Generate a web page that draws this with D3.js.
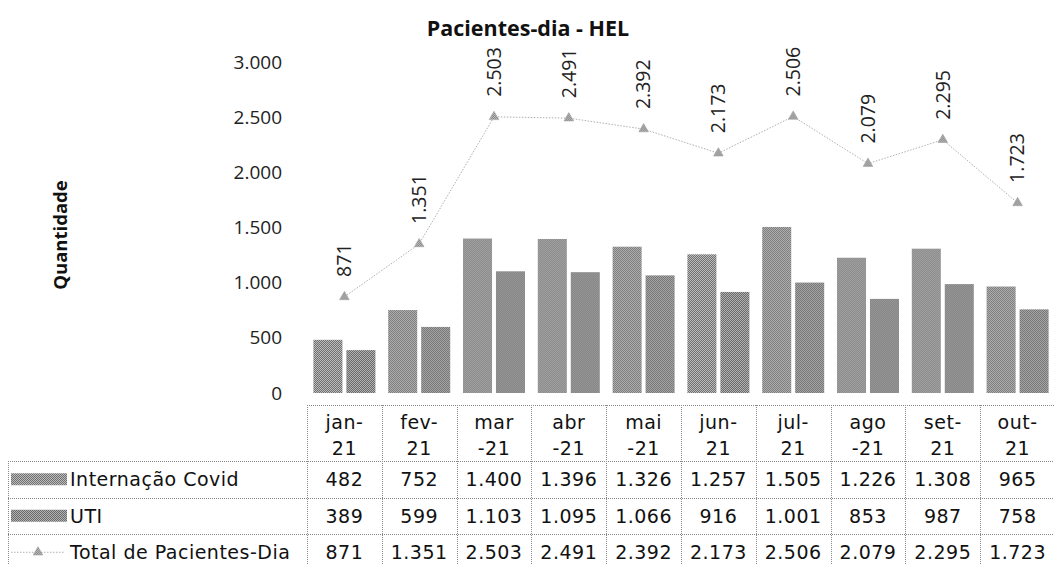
<!DOCTYPE html>
<html>
<head>
<meta charset="utf-8">
<script src="https://cdn.jsdelivr.net/npm/d3@7"></script>
<style>
  body { margin: 0; background: #fff; }
  svg { display: block; }
</style>
</head>
<body>
<div id="chart"></div>
<script>
// Chart data
var months = ["jan-21", "fev-21", "mar-21", "abr-21", "mai-21", "jun-21", "jul-21", "ago-21", "set-21", "out-21"];
var monthLines = [["jan-", "21"], ["fev-", "21"], ["mar", "-21"], ["abr", "-21"], ["mai", "-21"],
                  ["jun-", "21"], ["jul-", "21"], ["ago", "-21"], ["set-", "21"], ["out-", "21"]];
var internacao = [482, 752, 1400, 1396, 1326, 1257, 1505, 1226, 1308, 965];
var uti = [389, 599, 1103, 1095, 1066, 916, 1001, 853, 987, 758];
var total = [871, 1351, 2503, 2491, 2392, 2173, 2506, 2079, 2295, 1723];
var yTicks = [0, 500, 1000, 1500, 2000, 2500, 3000];
var seriesNames = ["Internação Covid", "UTI", "Total de Pacientes-Dia"];

var W = 1054, H = 565;
var plotLeft = 307, colW = 74.8;
var plotTop = 62, plotBottom = 393;

var locale = d3.formatLocale({ decimal: ",", thousands: ".", grouping: [3], currency: ["", ""] });
var fmt = locale.format(",d");

var svg = d3.select("#chart").append("svg")
    .attr("width", W)
    .attr("height", H);

// Halftone-like fill patterns for the bars
var defs = svg.append("defs");
function makePattern(id, dark, light) {
    var p = defs.append("pattern")
        .attr("id", id)
        .attr("width", 2).attr("height", 2)
        .attr("patternUnits", "userSpaceOnUse");
    p.append("rect").attr("width", 2).attr("height", 2).attr("fill", light);
    p.append("rect").attr("width", 1).attr("height", 1).attr("fill", dark);
    p.append("rect").attr("x", 1).attr("y", 1).attr("width", 1).attr("height", 1).attr("fill", dark);
}
makePattern("patInt", "#707070", "#bcbcbc");
makePattern("patUti", "#6a6a6a", "#b2b2b2");
makePattern("patTri", "#7a7a7a", "#c8c8c8");

// Scales
var x = d3.scaleBand().domain(months).range([plotLeft, plotLeft + colW * months.length]).padding(0);
var xInner = d3.scaleBand().domain(["int", "uti"]).range([0, x.bandwidth()])
    .paddingInner(0.12).paddingOuter(0.194);
var y = d3.scaleLinear().domain([0, 3000]).range([plotBottom, plotTop]);

var labelFont = "'Open Sans', 'Liberation Sans', sans-serif";
var tableFont = "'DejaVu Sans', sans-serif";

// Title
svg.append("text")
    .attr("x", 528).attr("y", 36)
    .attr("text-anchor", "middle")
    .style("font-family", labelFont)
    .style("font-weight", "bold")
    .style("font-size", "21.5px")
    .style("fill", "#111")
    .text("Pacientes-dia - HEL");

// Y axis title
svg.append("text")
    .attr("transform", "translate(67,235) rotate(-90)")
    .attr("text-anchor", "middle")
    .style("font-family", labelFont)
    .style("font-weight", "bold")
    .style("font-size", "18.5px")
    .style("fill", "#111")
    .text("Quantidade");

// Y axis
var yAxis = svg.append("g")
    .attr("transform", "translate(286,0)")
    .call(d3.axisLeft(y).tickValues(yTicks).tickSize(0).tickPadding(4).tickFormat(fmt));
yAxis.select(".domain").remove();
yAxis.selectAll("text")
    .style("font-family", labelFont)
    .style("font-size", "19px")
    .style("fill", "#222");

// Bars
var barData = months.map(function(m, i) { return { m: m, int: internacao[i], uti: uti[i] }; });
var groups = svg.selectAll(".grp")
    .data(barData)
    .enter().append("g")
    .attr("transform", function(d) { return "translate(" + x(d.m) + ",0)"; });

groups.append("rect")
    .attr("x", xInner("int"))
    .attr("y", function(d) { return y(d.int); })
    .attr("width", xInner.bandwidth())
    .attr("height", function(d) { return y(0) - y(d.int); })
    .attr("fill", "url(#patInt)");

groups.append("rect")
    .attr("x", xInner("uti"))
    .attr("y", function(d) { return y(d.uti); })
    .attr("width", xInner.bandwidth())
    .attr("height", function(d) { return y(0) - y(d.uti); })
    .attr("fill", "url(#patUti)");

// Total line
var cx = function(i) { return x(months[i]) + x.bandwidth() / 2; };
var line = d3.line()
    .x(function(d, i) { return cx(i); })
    .y(function(d) { return y(d); });

svg.append("path")
    .datum(total)
    .attr("d", line)
    .attr("fill", "none")
    .attr("stroke", "#b0b0b0")
    .attr("stroke-width", 1)
    .attr("stroke-dasharray", "1.5,1.5");

var tri = d3.symbol().type(d3.symbolTriangle).size(40);
svg.selectAll(".mk")
    .data(total)
    .enter().append("path")
    .attr("d", tri)
    .attr("transform", function(d, i) { return "translate(" + cx(i) + "," + y(d) + ")"; })
    .attr("fill", "url(#patTri)")
    .attr("stroke", "#a0a0a0")
    .attr("stroke-width", 0.6);

// Data labels (rotated)
svg.selectAll(".lbl")
    .data(total)
    .enter().append("text")
    .attr("transform", function(d, i) { return "translate(" + cx(i) + "," + (y(d) - 20) + ") rotate(-90)"; })
    .attr("dy", "0.35em")
    .attr("text-anchor", "start")
    .style("font-family", labelFont)
    .style("font-size", "19.5px")
    .style("fill", "#222")
    .text(function(d) { return fmt(d); });

// Data table
var tTop = 405, headH = 56, rowH = 36.5, tLeft = 8, tRight = plotLeft + colW * months.length;
var gridStyle = function(sel) {
    sel.attr("stroke", "#888").attr("stroke-width", 1).attr("stroke-dasharray", "1,1").attr("shape-rendering", "crispEdges");
};
var table = svg.append("g");
var cellText = function(sel) {
    sel.style("font-family", tableFont)
        .style("font-size", "19px")
        .style("letter-spacing", "0.5px")
        .style("fill", "#111");
};

// horizontal lines
table.append("line").attr("x1", plotLeft).attr("x2", tRight).attr("y1", tTop + 0.5).attr("y2", tTop + 0.5).call(gridStyle);
[0, 1, 2, 3].forEach(function(r) {
    var yy = Math.round(tTop + headH + r * rowH) + 0.5;
    table.append("line").attr("x1", tLeft).attr("x2", tRight).attr("y1", yy).attr("y2", yy).call(gridStyle);
});
// vertical lines
table.append("line").attr("x1", tLeft + 0.5).attr("x2", tLeft + 0.5)
    .attr("y1", tTop + headH).attr("y2", H).call(gridStyle);
months.forEach(function(m) {
    var xx = Math.round(x(m)) + 0.5;
    table.append("line").attr("x1", xx).attr("x2", xx).attr("y1", tTop).attr("y2", H).call(gridStyle);
});

// header labels
months.forEach(function(m, i) {
    var t = table.append("text")
        .attr("x", cx(i))
        .attr("text-anchor", "middle")
        .call(cellText);
    t.append("tspan").attr("x", cx(i)).attr("y", tTop + 24).text(monthLines[i][0]);
    t.append("tspan").attr("x", cx(i)).attr("y", tTop + 50).text(monthLines[i][1]);
});

// rows
var rows = [internacao, uti, total];
rows.forEach(function(vals, r) {
    var rowMid = tTop + headH + r * rowH + rowH / 2;
    vals.forEach(function(v, i) {
        table.append("text")
            .attr("x", cx(i))
            .attr("y", rowMid)
            .attr("dy", "0.36em")
            .attr("text-anchor", "middle")
            .call(cellText)
            .text(fmt(v));
    });
    table.append("text")
        .attr("x", 70)
        .attr("y", rowMid)
        .attr("dy", "0.36em")
        .call(cellText)
        .text(seriesNames[r]);

    // legend keys
    if (r < 2) {
        table.append("rect")
            .attr("x", 11).attr("y", rowMid - 6)
            .attr("width", 56).attr("height", 12)
            .attr("fill", r === 0 ? "url(#patInt)" : "url(#patUti)");
    } else {
        table.append("line")
            .attr("x1", 11).attr("x2", 64).attr("y1", rowMid).attr("y2", rowMid)
            .attr("stroke", "#b0b0b0").attr("stroke-dasharray", "1.5,1.5");
        table.append("path")
            .attr("d", tri)
            .attr("transform", "translate(38," + rowMid + ")")
            .attr("fill", "url(#patTri)")
            .attr("stroke", "#a0a0a0")
            .attr("stroke-width", 0.6);
    }
});
</script>
</body>
</html>
